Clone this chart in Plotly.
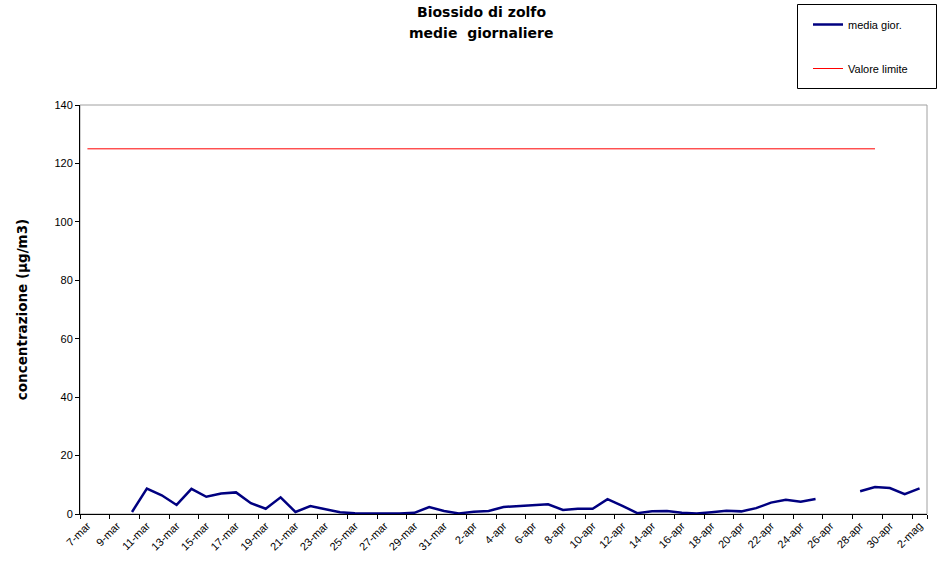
import plotly.graph_objects as go

# ---- data ----
days = [
    "7-mar", "8-mar", "9-mar", "10-mar", "11-mar", "12-mar", "13-mar", "14-mar", "15-mar",
    "16-mar", "17-mar", "18-mar", "19-mar", "20-mar", "21-mar", "22-mar", "23-mar", "24-mar",
    "25-mar", "26-mar", "27-mar", "28-mar", "29-mar", "30-mar", "31-mar",
    "1-apr", "2-apr", "3-apr", "4-apr", "5-apr", "6-apr", "7-apr", "8-apr", "9-apr", "10-apr",
    "11-apr", "12-apr", "13-apr", "14-apr", "15-apr", "16-apr", "17-apr", "18-apr", "19-apr",
    "20-apr", "21-apr", "22-apr", "23-apr", "24-apr", "25-apr", "26-apr", "27-apr", "28-apr",
    "29-apr", "30-apr", "1-mag", "2-mag",
]

media_gior = [
    None, None, None, 0.7, 8.7, 6.4, 3.1, 8.6, 5.9,
    7.0, 7.4, 3.7, 1.8, 5.7, 0.7, 2.7, 1.6, 0.6,
    0.25, 0.15, 0.2, 0.2, 0.4, 2.4, 1.0,
    0.2, 0.8, 1.0, 2.4, 2.7, 3.2, 3.3, 1.4, 1.8, 1.8,
    5.1, 2.8, 0.3, 0.9, 1.0, 0.45, 0.2, 0.6, 1.1,
    0.9, 2.0, 3.9, 4.9, 4.2, 5.1, None, None, 7.8,
    9.2, 8.9, 6.8, 8.8,
]

valore_limite = [125] * 54 + [None] * 3

tick_labels = days[::2]

# ---- layout geometry (page body margin removed via post_script) ----
W, H = 940, 571
PL, PR, PT, PB = 80, 927, 105, 514  # plot area in px
PW, PH = PR - PL, PB - PT


def px_x(x):
    return (x - PL) / PW


def px_y(y):
    return (PB - y) / PH


fig = go.Figure()

fig.add_trace(go.Scatter(
    x=days, y=media_gior, mode="lines", name="media gior.",
    line=dict(color="#000080", width=2.5), connectgaps=False,
    legendgroup="a",
))
fig.add_trace(go.Scatter(
    x=days, y=valore_limite, mode="lines", name="Valore limite",
    line=dict(color="#FF0000", width=1), connectgaps=False,
    legendgroup="b",
))

fig.update_layout(
    width=W, height=H,
    margin=dict(l=PL, r=W - PR, t=PT, b=H - PB, autoexpand=False),
    paper_bgcolor="white", plot_bgcolor="white",
    font=dict(family="Liberation Sans, Arial", size=11, color="black"),
    showlegend=True,
    legend=dict(
        x=808 / W, xref="container", xanchor="left",
        y=1 - 10 / H, yref="container", yanchor="top",
        bgcolor="rgba(0,0,0,0)", borderwidth=0,
        tracegroupgap=25,
        font=dict(family="Liberation Sans, Arial", size=11, color="black"),
    ),
    annotations=[
        dict(text="<b>Biossido di zolfo</b>", xref="paper", yref="paper",
             x=px_x(481), y=px_y(12), xanchor="center", yanchor="middle",
             showarrow=False, font=dict(family="DejaVu Sans", size=14, color="black")),
        dict(text="<b>medie  giornaliere</b>", xref="paper", yref="paper",
             x=px_x(481), y=px_y(33), xanchor="center", yanchor="middle",
             showarrow=False, font=dict(family="DejaVu Sans", size=14, color="black")),
    ],
    shapes=[
        dict(type="rect", xref="x domain", yref="y domain", x0=0, x1=1, y0=0, y1=1,
             line=dict(color="#A0A0A0", width=1), layer="below"),
        dict(type="rect", xref="paper", yref="paper",
             x0=px_x(797.5), x1=px_x(936.5), y0=px_y(88.5), y1=px_y(4.5),
             line=dict(color="black", width=1), fillcolor="rgba(0,0,0,0)"),
    ],
)

fig.update_xaxes(
    type="category", categoryorder="array", categoryarray=days,
    range=[-0.5, len(days) - 0.5],
    tickmode="array", tickvals=tick_labels, ticktext=tick_labels,
    tickson="boundaries", ticks="outside", ticklen=4, tickcolor="black",
    tickangle=-45, showgrid=False, zeroline=False,
    showline=True, linecolor="black", linewidth=1,
    tickfont=dict(family="Liberation Sans, Arial", size=11, color="black"),
)
fig.update_yaxes(
    range=[0, 140], dtick=20, tick0=0,
    ticks="outside", ticklen=4, tickcolor="black",
    showgrid=False, zeroline=False,
    showline=True, linecolor="black", linewidth=1,
    tickfont=dict(family="Liberation Sans, Arial", size=11, color="black"),
    title=dict(text="<b>concentrazione (µg/m3)</b>", standoff=23,
               font=dict(family="DejaVu Sans", size=13.5, color="black")),
)

fig.write_html("out.html", config={"displayModeBar": False},
               post_script="document.body.style.margin='0';")
